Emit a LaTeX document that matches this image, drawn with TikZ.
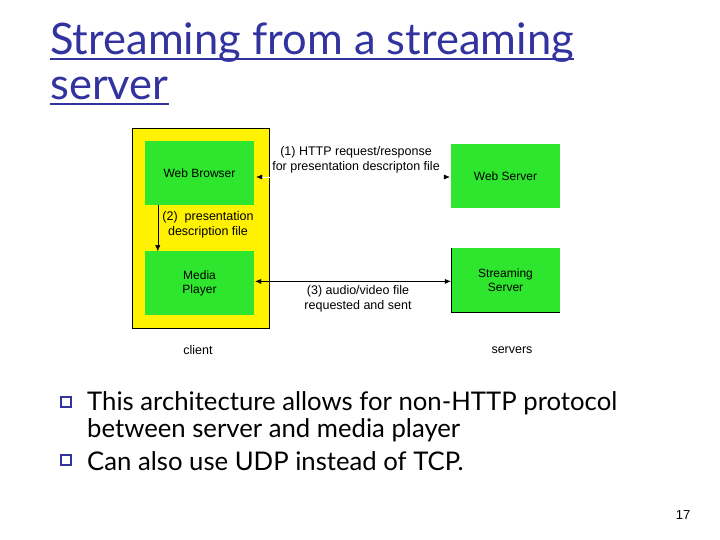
\documentclass[tikz,border=0pt]{standalone}
\usepackage{fontspec}
\setmainfont{Liberation Sans}
\newfontfamily\slidefont{Lato}
\usetikzlibrary{positioning,arrows.meta}
\definecolor{boxgreen}{RGB}{45,230,45}
\definecolor{titleblue}{RGB}{51,51,160}

\begin{document}
\begin{tikzpicture}[x=1pt,y=-1pt,>={Latex[length=6pt,width=5pt]},
    box/.style={fill=boxgreen,minimum width=109pt,minimum height=64pt,align=center,font=\fontsize{12}{14}\selectfont},
    lbl/.style={align=center,font=\fontsize{12.5}{15}\selectfont,inner sep=0pt},
    bullet/.style={draw=titleblue,line width=1.8pt,minimum size=10pt,inner sep=0pt},
    body/.style={anchor=base west,inner sep=0pt,font=\slidefont\fontsize{25.7}{30}\selectfont}]
        \useasboundingbox[fill=white] (0,0) rectangle (720,540);

        % title
        \node[anchor=base west,inner sep=0pt,text=titleblue,font=\slidefont\fontsize{43.5}{48}\selectfont] (t1) at (50,55) {Streaming from a streaming};
        \node[anchor=base west,inner sep=0pt,text=titleblue,font=\slidefont\fontsize{43.5}{48}\selectfont] (t2) at (50,100) {server};
        \foreach \t in {t1,t2}{
            \draw[titleblue,line width=2.5pt] ([yshift=-4pt]\t.base west)--([yshift=-4pt]\t.base east);
        }

        % client and servers
        \node[draw,fill=yellow,minimum width=137pt,minimum height=200pt] (client) at (200.5,228) {};
        \node[box] (wb) at (199.5,173) {Web Browser};
        \node[box] (mp) [below=46pt of wb] {Media\\Player};
        \node[box] (ws) at (505.5,176) {Web Server};
        \node[box] (ss) [below=40pt of ws] {Streaming\\Server};
        \draw[line width=0.6pt] (ss.north west) |- (ss.south east);

        \draw[white,{Latex[length=6pt,width=5pt,black]}-{Latex[length=6pt,width=5pt,black]},shorten <=2pt,shorten >=1pt]
            ([yshift=-4pt]wb.east)--([yshift=-1pt]ws.west);
        \draw[->] ([xshift=13pt]wb.south west)--([xshift=13pt]mp.north west);
        \draw[<->,shorten <=1pt] ([yshift=2pt]mp.east)--([yshift=-1pt]ss.west);

        \node[lbl] (l1) at (356,160) {(1) HTTP request/response\\for presentation descripton file};
        \node[lbl] (l2) at (208,225) {(2)\ \ presentation\\description file};
        \node[lbl] (l3) at (358,299) {(3) audio/video file\\requested and sent};
        \node[lbl] (cl) at (198,350) {client};
        \node[lbl] (sv) at (512,350) {servers};

        % bullets
        \node[body] (b1) at (87,410) {This architecture allows for non-HTTP protocol};
        \node[body] (b2) at (87,437) {between server and media player};
        \node[body] (b3) at (87,470) {Can also use UDP instead of TCP.};
        \foreach \b in {b1,b3}{
            \node[bullet] (sq\b) [left=15pt of \b.west,yshift=1pt] {};
        }
        \node[lbl,font=\fontsize{13}{15}\selectfont] (pg) at (683,515) {17};
    \end{tikzpicture}
\end{document}
